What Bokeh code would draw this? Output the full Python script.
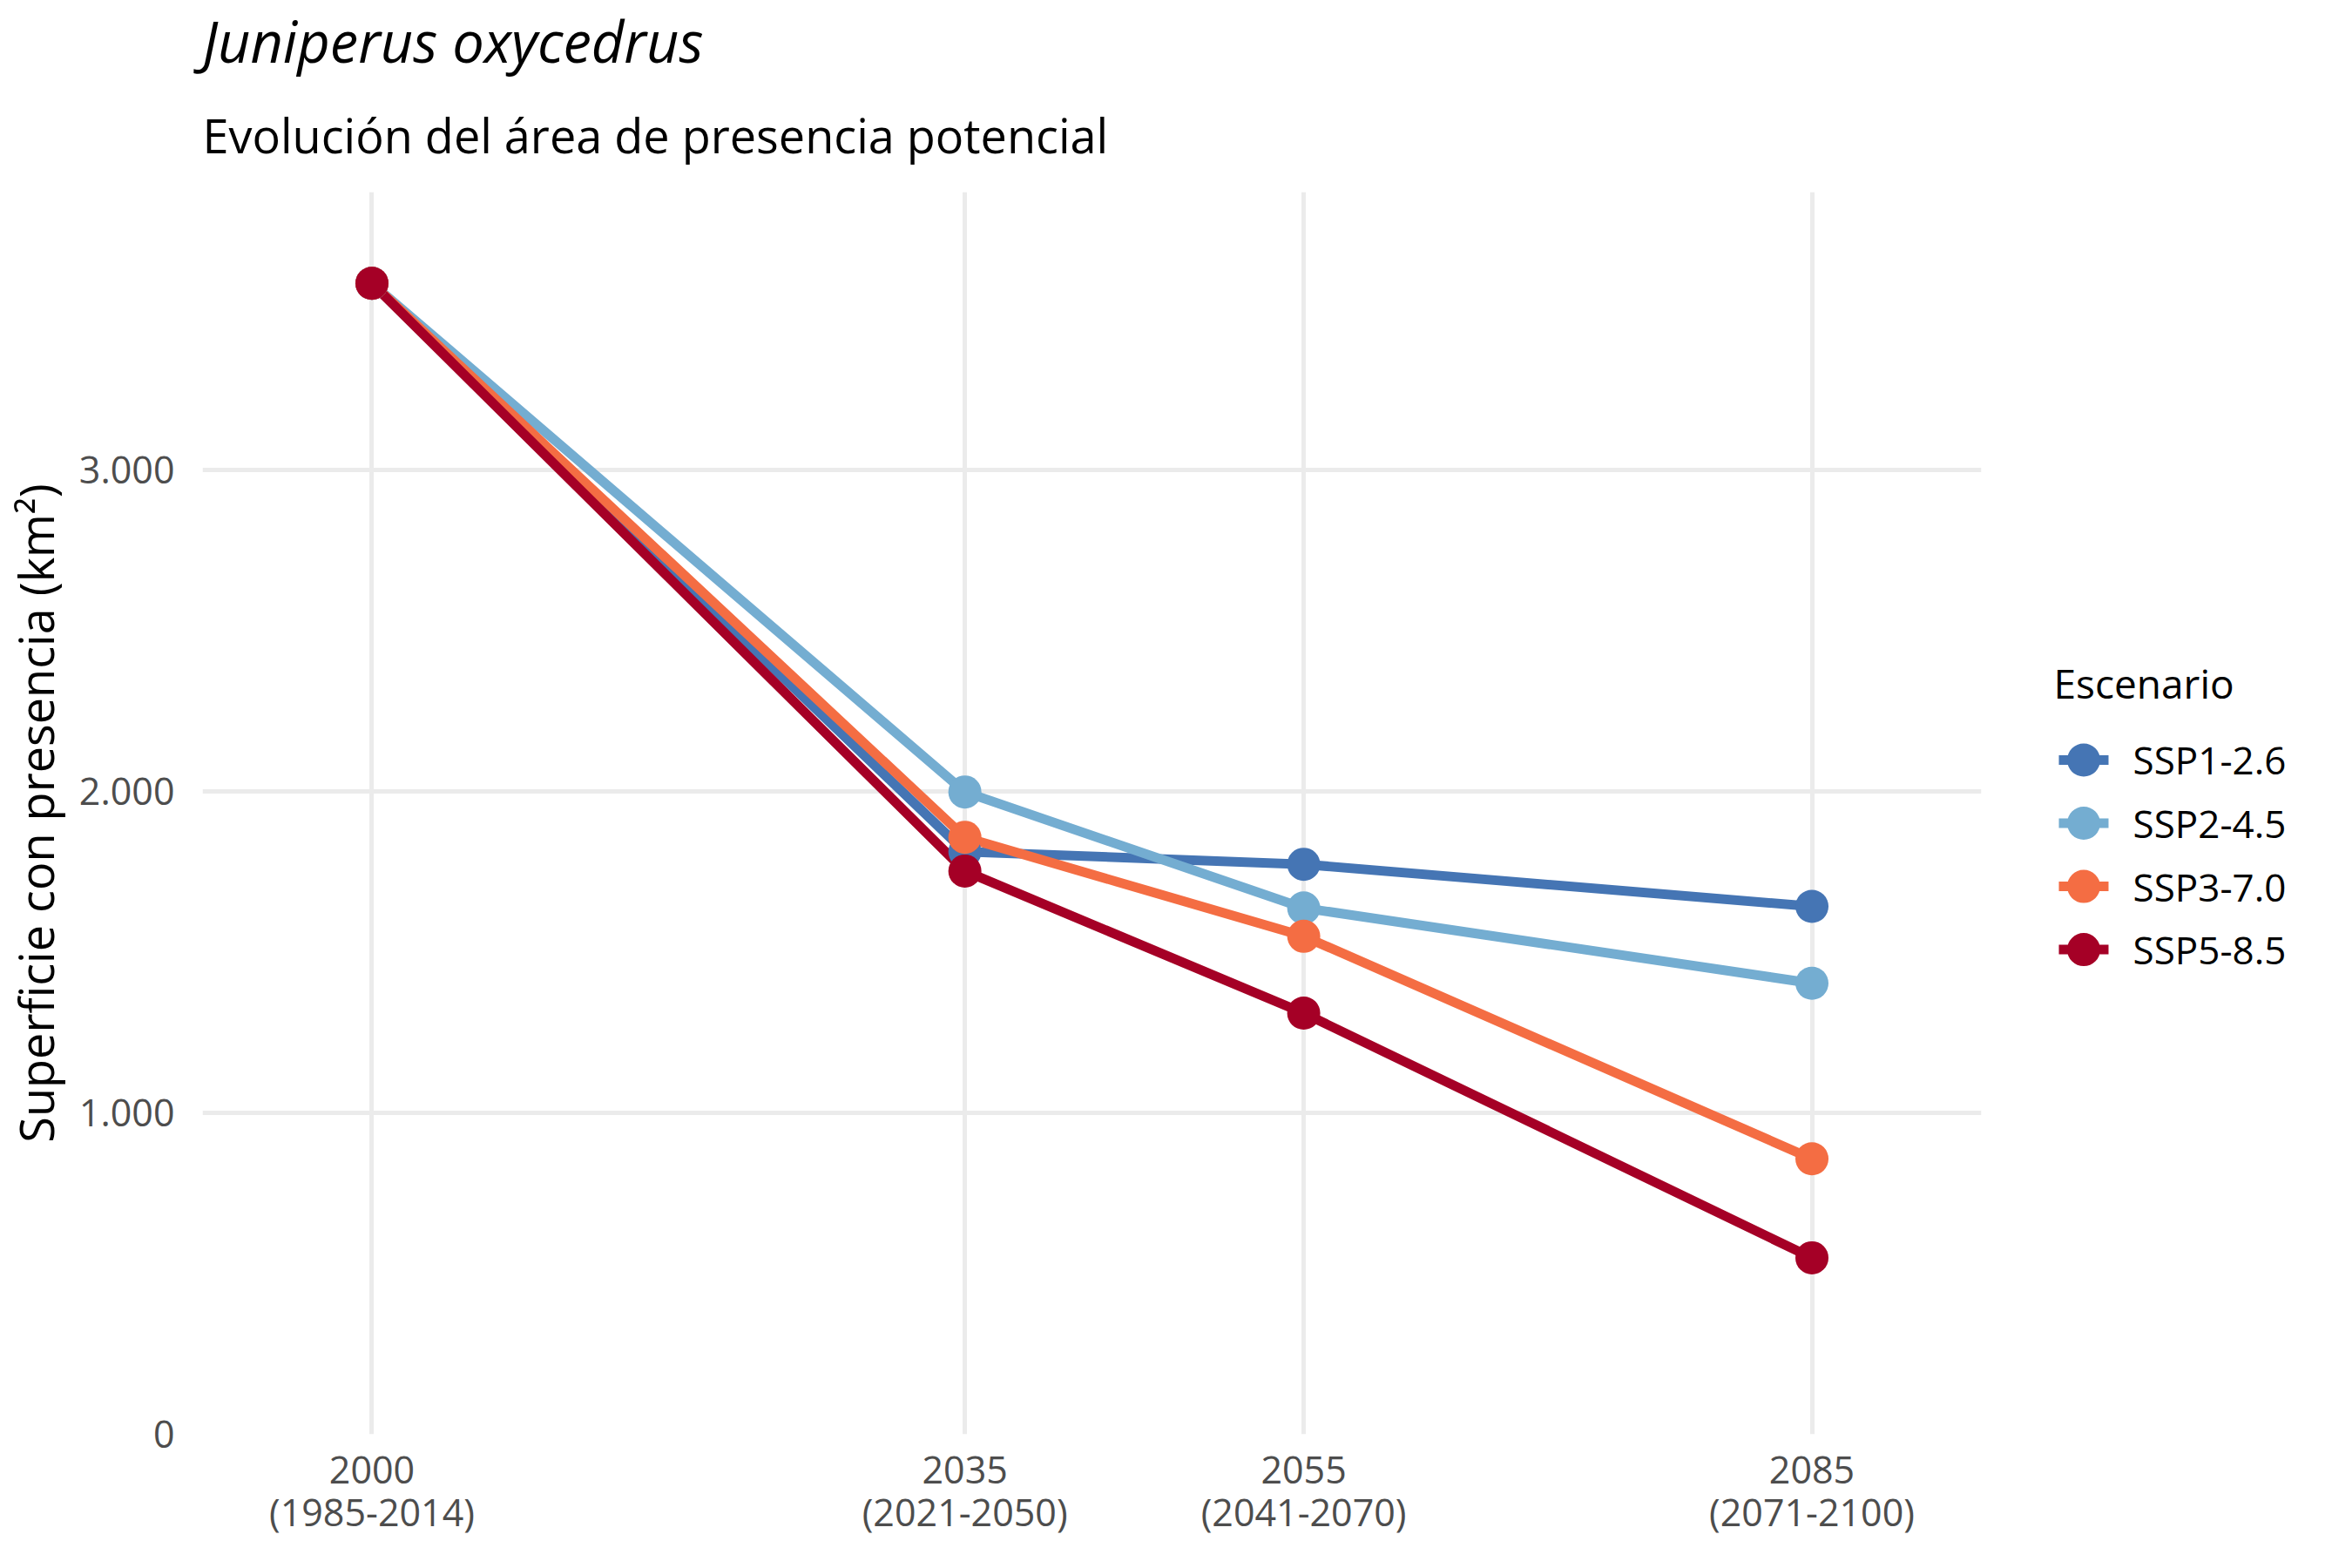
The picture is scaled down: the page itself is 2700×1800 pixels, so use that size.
from bokeh.core.properties import value
from bokeh.embed import file_html
from bokeh.layouts import row
from bokeh.models import ColumnDataSource, FixedTicker, Label, Range1d, Title
from bokeh.plotting import figure
from bokeh.resources import INLINE

# data
years = [2000, 2035, 2055, 2085]
periods = ["2000\n(1985-2014)", "2035\n(2021-2050)", "2055\n(2041-2070)", "2085\n(2071-2100)"]

scenarios = ["SSP1-2.6", "SSP2-4.5", "SSP3-7.0", "SSP5-8.5"]
colors = ["#4575b4", "#74add1", "#f46d43", "#a50026"]

ssp126 = [3580, 1812, 1773, 1642]
ssp245 = [3580, 1998, 1637, 1403]
ssp370 = [3580, 1857, 1549, 857]
ssp585 = [3580, 1752, 1310, 549]
series = [ssp126, ssp245, ssp370, ssp585]

y_ticks = [0, 1000, 2000, 3000]
y_labels = ["0", "1.000", "2.000", "3.000"]

FONT = "Open Sans"

p = figure(
    width=2284,
    height=1784,
    x_range=Range1d(1990, 2095),
    y_range=Range1d(0, 3864),
    output_backend="svg",
    toolbar_location=None,
    min_border_left=219,
    min_border_right=10,
    min_border_top=220,
    min_border_bottom=138,
)
p.outline_line_color = None

for ax in (p.xaxis, p.yaxis):
    ax.axis_line_color = None
    ax.major_tick_line_color = None
    ax.minor_tick_line_color = None
    ax.major_label_text_font = FONT
    ax.major_label_text_font_size = "43px"
    ax.major_label_text_color = "#4d4d4d"

p.xaxis.ticker = FixedTicker(ticks=years)
p.xaxis.major_label_overrides = dict(zip(years, periods))
p.xaxis.major_label_standoff = 4
p.xaxis.major_label_text_line_height = 0.84

p.yaxis.ticker = FixedTicker(ticks=y_ticks)
p.yaxis.major_label_overrides = dict(zip(y_ticks, y_labels))
p.yaxis.major_label_standoff = 26
p.yaxis.axis_label = "Superficie con presencia (km²)"
p.yaxis.axis_label_text_font = FONT
p.yaxis.axis_label_text_font_size = "54px"
p.yaxis.axis_label_text_font_style = "normal"
p.yaxis.axis_label_text_color = "black"
p.yaxis.axis_label_standoff = 10

p.grid.grid_line_color = "#ebebeb"
p.grid.grid_line_width = 5

for vals, c in zip(series, colors):
    p.line(years, vals, line_color=c, line_width=11, line_join="round")
for vals, c in zip(series, colors):
    p.scatter(years, vals, size=38, fill_color=c, line_color=None)

# first added sits next to the frame
p.add_layout(Title(
    text="Evolución del área de presencia potencial", align="left",
    text_font=FONT, text_font_size="54px", text_font_style="normal",
    text_color="black", standoff=58,
), "above")
p.add_layout(Title(
    text="Juniperus oxycedrus", align="left",
    text_font=FONT, text_font_size="65px", text_font_style="italic",
    text_color="black", standoff=-8,
), "above")

# legend drawn as a small side figure (its frame is aligned with the main one)
idx = list(range(len(scenarios)))
leg = figure(
    width=400,
    height=1784,
    x_range=Range1d(2292, 2692),
    y_range=Range1d(10.670, -8.988),
    output_backend="svg",
    toolbar_location=None,
    x_axis_location=None,
    y_axis_location=None,
    min_border=0,
)
leg.outline_line_color = None
leg.xgrid.visible = False
leg.ygrid.visible = False

src = ColumnDataSource(dict(y=idx, name=scenarios, color=colors))
leg.segment(x0=2371, x1=2428, y0="y", y1="y", line_color="color", line_width=11, source=src)
leg.scatter(x=2399.5, y="y", size=38, fill_color="color", line_color=None, source=src)
leg.text(x=2456, y="y", text="name", text_font=value(FONT), text_font_size="44px",
         text_baseline="middle", text_color="black", source=src)
leg.add_layout(Label(
    x=73, y=863, x_units="screen", y_units="screen",
    text="Escenario", text_font=FONT, text_font_size="46px",
    text_color="black", text_baseline="alphabetic",
))

layout = row(p, leg)
open("out.html", "w").write(file_html(layout, INLINE))
